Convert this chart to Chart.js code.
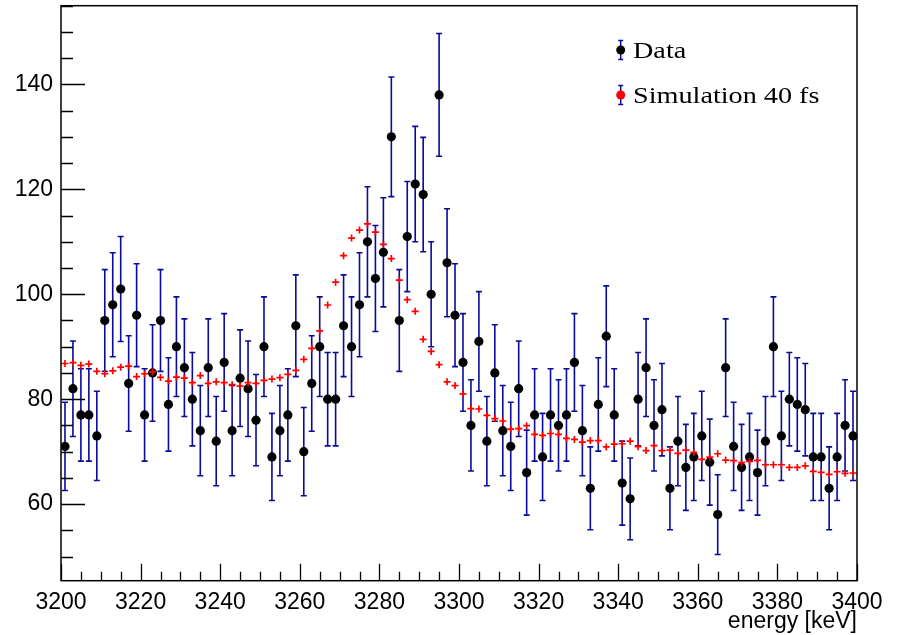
<!DOCTYPE html>
<html><head><meta charset="utf-8">
<script src="https://cdn.jsdelivr.net/npm/chart.js@4/dist/chart.umd.min.js"></script>
<style>html,body{margin:0;padding:0;background:#fff;overflow:hidden;}</style>
</head><body>
<canvas id="c" width="898" height="635"></canvas>
<script>
// ---- data ----
const binCenters = [
3201,3203,3205,3207,3209,3211,3213,3215,3217,3219,
3221,3223,3225,3227,3229,3231,3233,3235,3237,3239,
3241,3243,3245,3247,3249,3251,3253,3255,3257,3259,
3261,3263,3265,3267,3269,3271,3273,3275,3277,3279,
3281,3283,3285,3287,3289,3291,3293,3295,3297,3299,
3301,3303,3305,3307,3309,3311,3313,3315,3317,3319,
3321,3323,3325,3327,3329,3331,3333,3335,3337,3339,
3341,3343,3345,3347,3349,3351,3353,3355,3357,3359,
3361,3363,3365,3367,3369,3371,3373,3375,3377,3379,
3381,3383,3385,3387,3389,3391,3393,3395,3397,3399];
const dataCounts = [
71,82,77,77,73,95,98,101,83,96,
77,85,95,79,90,86,80,74,86,72,
87,74,84,82,76,90,69,74,77,94,
70,83,90,80,80,94,90,98,110,103,
108,130,95,111,121,119,100,138,106,96,
87,75,91,72,85,74,71,82,66,77,
69,77,75,77,87,74,63,79,92,77,
64,61,80,86,75,78,63,72,67,69,
73,68,58,86,71,67,69,66,72,90,
73,80,79,78,69,69,63,69,75,73];
const dataErrors = [
8.4,9.1,8.8,8.8,8.5,9.7,9.9,10.0,9.1,9.8,
8.8,9.2,9.7,8.9,9.5,9.3,8.9,8.6,9.3,8.5,
9.3,8.6,9.2,9.1,8.7,9.5,8.3,8.6,8.8,9.7,
8.4,9.1,9.5,8.9,8.9,9.7,9.5,9.9,10.5,10.1,
10.4,11.4,9.7,10.5,11.0,10.9,10.0,11.7,10.3,9.8,
9.3,8.7,9.5,8.5,9.2,8.6,8.4,9.1,8.1,8.8,
8.3,8.8,8.7,8.8,9.3,8.6,7.9,8.9,9.6,8.8,
8.0,7.8,8.9,9.3,8.7,8.8,7.9,8.5,8.2,8.3,
8.5,8.2,7.6,9.3,8.4,8.2,8.3,8.1,8.5,9.5,
8.5,8.9,8.9,8.8,8.3,8.3,7.9,8.3,8.7,8.5];
const simValues = [
86.8,86.95,86.45,86.7,85.3,84.85,85.4,86.1,86.3,84.3,
84.85,85.2,84.15,83.45,84.2,84.0,83.15,84.5,83.0,83.3,
83.15,82.76,82.5,83.15,83.0,83.6,83.84,84.1,84.73,85.5,
87.6,89.7,93.0,97.95,102.3,107.35,110.7,112.24,113.4,111.86,
109.5,106.8,102.7,98.96,96.74,91.4,89.1,86.57,83.3,82.6,
81.0,78.2,78.13,76.9,76.3,75.84,74.3,74.37,74.95,73.3,
73.1,73.46,73.3,72.52,72.33,71.8,72.1,72.1,70.9,71.45,
71.5,72.0,70.94,70.2,71.13,70.2,70.3,69.68,70.3,69.87,
68.53,68.97,69.6,68.4,68.27,67.9,68.15,68.34,67.5,67.5,
67.5,67.0,67.0,67.3,66.24,66.05,65.67,66.17,65.86,65.93];
const xTickLabels = [3200,3220,3240,3260,3280,3300,3320,3340,3360,3380,3400];
const yTickLabels = [60,80,100,120,140];
const legendLabels = ['Data','Simulation 40 fs'];

const BLUE = '#0a0a9c';
const RED = '#ff0000';

const dataPts = binCenters.map((x,i)=>({x:x, y:dataCounts[i]}));
const simPts = binCenters.map((x,i)=>({x:x, y:simValues[i]}));

const errorBars = {
  id:'errorBars',
  beforeDatasetsDraw(chart){
    const {ctx, scales:{x,y}} = chart;
    ctx.save();
    ctx.strokeStyle = BLUE; ctx.lineWidth = 1.6;
    binCenters.forEach((bx,i)=>{
      const px = x.getPixelForValue(bx);
      const top = y.getPixelForValue(dataCounts[i]+dataErrors[i]);
      const bot = y.getPixelForValue(dataCounts[i]-dataErrors[i]);
      ctx.beginPath();
      ctx.moveTo(px, top); ctx.lineTo(px, bot);
      ctx.moveTo(px-3, top); ctx.lineTo(px+3, top);
      ctx.moveTo(px-3, bot); ctx.lineTo(px+3, bot);
      ctx.stroke();
    });
    ctx.restore();
  },
  afterDraw(chart){
    const {ctx, chartArea:a, scales:{x,y}} = chart;
    ctx.save();
    ctx.strokeStyle = '#000'; ctx.lineWidth = 1.3;
    ctx.beginPath();
    for (let v=50; v<=155; v+=5){
      const py = Math.round(y.getPixelForValue(v))+0.5;
      const len = (v%20===0) ? 24 : 12;
      ctx.moveTo(a.left, py); ctx.lineTo(a.left+len, py);
    }
    for (let v=3200; v<=3400; v+=5){
      const px = Math.round(x.getPixelForValue(v))+0.5;
      const len = (v%20===0) ? 17 : 9;
      ctx.moveTo(px, a.bottom); ctx.lineTo(px, a.bottom-len);
    }
    ctx.stroke();
    ctx.lineWidth = 1.5;
    ctx.strokeRect(a.left, a.top, a.right-a.left, a.bottom-a.top);
    const items = [{y:50, col:'#000'},{y:95, col:RED}];
    items.forEach((it,i)=>{
      const mx = 620.7;
      ctx.strokeStyle = BLUE; ctx.lineWidth = 1.5;
      ctx.beginPath();
      ctx.moveTo(mx, it.y-9.5); ctx.lineTo(mx, it.y+9.5);
      ctx.moveTo(mx-2.5, it.y-9.5); ctx.lineTo(mx+2.5, it.y-9.5);
      ctx.moveTo(mx-2.5, it.y+9.5); ctx.lineTo(mx+2.5, it.y+9.5);
      ctx.stroke();
      ctx.fillStyle = it.col;
      ctx.beginPath(); ctx.arc(mx, it.y, 4.5, 0, Math.PI*2); ctx.fill();
      ctx.save();
      ctx.translate(633, it.y+8.3);
      ctx.scale(1.2, 1);
      ctx.fillStyle = '#000';
      ctx.font = '23.5px "Liberation Serif", "Times New Roman", serif';
      ctx.textBaseline = 'alphabetic';
      ctx.fillText(legendLabels[i], 0, 0);
      ctx.restore();
    });
    ctx.restore();
  }
};

new Chart(document.getElementById('c'), {
  type:'scatter',
  data:{datasets:[
    {label:legendLabels[1], data:simPts, pointStyle:'cross', pointRadius:3.5, borderColor:RED, backgroundColor:RED, pointBorderWidth:1.7, showLine:false},
    {label:legendLabels[0], data:dataPts, pointStyle:'circle', pointRadius:4.6, backgroundColor:'#000', borderColor:'#000', pointBorderWidth:0, showLine:false}
  ]},
  options:{
    responsive:false, animation:false, devicePixelRatio:1,
    layout:{padding:{top:5.7, right:41, left:0, bottom:0}},
    plugins:{legend:{display:false}, tooltip:{enabled:false}},
    scales:{
      x:{type:'linear', min:3200, max:3400,
        grid:{display:false, drawTicks:false}, border:{display:false},
        afterBuildTicks:s=>{ s.ticks = xTickLabels.map(v=>({value:v})); },
        afterFit:s=>{ s.height = 54.3; s.paddingLeft = 0; s.paddingRight = 0; },
        ticks:{font:{family:'"Liberation Sans", Arial, sans-serif', size:23}, color:'#000', padding:8, maxRotation:0, autoSkip:false, callback:v=>String(v)},
        title:{display:true, text:'energy [keV]', align:'end', color:'#000', font:{family:'"Liberation Sans", Arial, sans-serif', size:23, lineHeight:1.2}, padding:0}
      },
      y:{type:'linear', min:45.4, max:155,
        grid:{display:false, drawTicks:false}, border:{display:false},
        afterBuildTicks:s=>{ s.ticks = yTickLabels.map(v=>({value:v})); },
        afterFit:s=>{ s.width = 61; s.paddingTop = 0; s.paddingBottom = 0; },
        ticks:{font:{family:'"Liberation Sans", Arial, sans-serif', size:23}, color:'#000', padding:8, autoSkip:false, callback:v=>String(v)}
      }
    }
  },
  plugins:[errorBars]
});
</script>
</body></html>
